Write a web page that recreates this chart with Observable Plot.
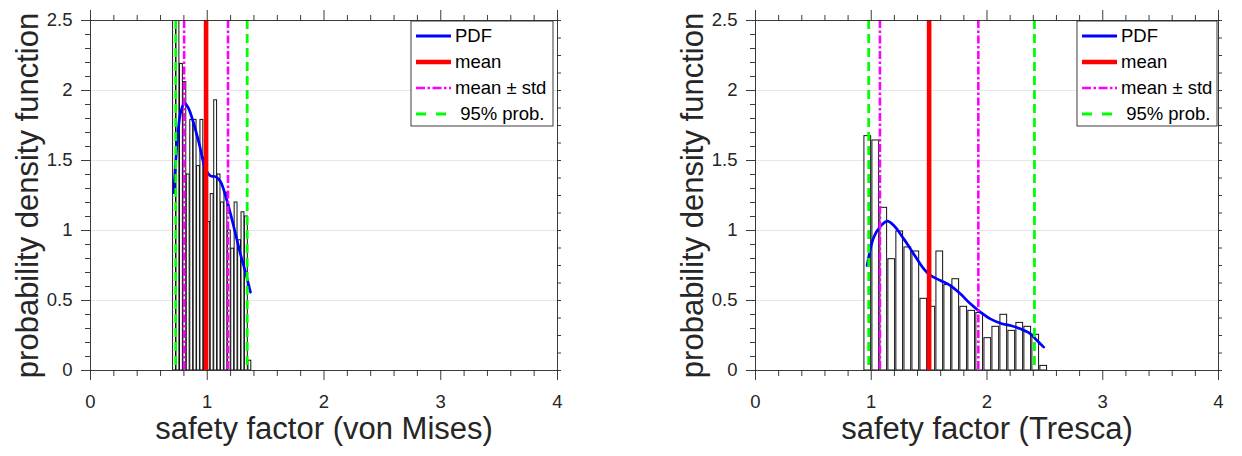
<!DOCTYPE html>
<html>
<head>
<meta charset="utf-8">
<script src="https://cdn.jsdelivr.net/npm/d3@7"></script>
<script src="https://cdn.jsdelivr.net/npm/@observablehq/plot@0.6"></script>
<style>
  html, body { margin: 0; padding: 0; background: #fff; }
  #wrap { display: flex; width: 1242px; height: 456px; }
</style>
</head>
<body>
<div id="wrap"></div>
<script>
// ---------- data ----------
// von Mises panel
const vmBinCenters = [0.720, 0.749, 0.779, 0.808, 0.837, 0.867, 0.896, 0.925, 0.954, 0.984, 1.013, 1.042,
                      1.072, 1.101, 1.130, 1.160, 1.189, 1.218, 1.247, 1.277, 1.306, 1.335, 1.365];
const vmDensity    = [2.62, 2.58, 2.19, 2.06, 1.40, 1.79, 1.79, 1.46, 1.79, 1.52, 1.06, 1.26,
                      1.93, 1.40, 1.20, 1.27, 1.00, 0.87, 1.20, 0.93, 1.13, 1.10, 0.07];
const vmPdfX = [0.713, 0.742, 0.771, 0.805, 0.835, 0.871, 0.928, 0.985, 1.028, 1.071, 1.113, 1.156, 1.199, 1.242, 1.285, 1.328, 1.370];
const vmPdfY = [1.27, 1.62, 1.84, 1.91, 1.88, 1.80, 1.63, 1.44, 1.39, 1.385, 1.35, 1.25, 1.12, 0.976, 0.83, 0.70, 0.56];
const vmMean = 0.99;
const vmStd = 0.188;
const vmP95 = [0.73, 1.342];

// Tresca panel
const trBinCenters = [0.970, 1.039, 1.108, 1.177, 1.246, 1.316, 1.385, 1.454, 1.523, 1.592, 1.661, 1.730,
                      1.799, 1.868, 1.937, 2.007, 2.076, 2.145, 2.214, 2.283, 2.352, 2.421, 2.490];
const trDensity    = [1.674, 1.643, 1.162, 0.795, 0.993, 0.879, 0.850, 0.512, 0.455, 0.850, 0.61, 0.652,
                      0.455, 0.426, 0.41, 0.231, 0.312, 0.398, 0.283, 0.340, 0.312, 0.255, 0.033];
const trPdfX = [0.964, 1.022, 1.079, 1.137, 1.195, 1.281, 1.367, 1.454, 1.511, 1.598, 1.684, 1.770, 1.857, 1.943, 2.029, 2.116, 2.202, 2.288, 2.375, 2.432, 2.490];
const trPdfY = [0.75, 0.952, 1.029, 1.067, 1.036, 0.94, 0.833, 0.726, 0.679, 0.643, 0.607, 0.548, 0.476, 0.417, 0.369, 0.338, 0.321, 0.298, 0.262, 0.214, 0.167];
const trMean = 1.50;
const trStd = 0.425;
const trP95 = [0.978, 2.41];

// axes / text
const xTicks = [0, 1, 2, 3, 4];
const xTickLabels = ["0", "1", "2", "3", "4"];
const yTicks = [0, 0.5, 1, 1.5, 2, 2.5];
const yTickLabels = ["0", "0.5", "1", "1.5", "2", "2.5"];
const gridY = [0.5, 1, 1.5, 2];
const legendLabels = ["PDF", "mean", "mean \u00b1 std", " 95% prob."];
const xAxisLabels = ["safety factor (von Mises)", "safety factor (Tresca)"];
const yAxisLabel = "probability density function";

// ---------- drawing ----------
const FONT = "'Liberation Sans', Arial, Helvetica, sans-serif";
const AX = "#262626";
const C_PDF = "#0000ff", C_MEAN = "#ff0000", C_STD = "#ff00ff", C_P95 = "#00ff00";
const DASH_STD = "8,2.5,2.5,2.5", DASH_P95 = "9,5";

function panel(o) {
  const W = 621, H = 456, T = 20, B = 86;
  const L = o.marginLeft, R = o.marginRight;
  const frameH = H - T - B, frameW = W - L - R;
  const n = o.centers.length;
  const pitch = (o.centers[n - 1] - o.centers[0]) / (n - 1);
  const half = pitch * 0.42;
  const bars = o.centers.map((c, i) => ({c, h: o.density[i]}));
  const pdf = o.pdfX.map((x, i) => ({x, y: o.pdfY[i]}));
  const minorX = d3.range(0, 4.0001, 0.2).filter(v => Math.abs(v - Math.round(v)) > 1e-6);
  const minorY = d3.range(0, 2.5001, 0.1).filter(v => Math.abs(v * 2 - Math.round(v * 2)) > 1e-6);
  const rightTicks = d3.range(0, 2.5001, 0.125);

  const svg = Plot.plot({
    width: W, height: H,
    marginLeft: L, marginRight: R, marginTop: T, marginBottom: B,
    x: {domain: [0, 4], axis: null},
    y: {domain: [0, 2.5], axis: null},
    style: {background: "white", fontFamily: FONT, color: AX, overflow: "visible"},
    marks: [
      Plot.ruleY(gridY, {stroke: "#e6e6e6", strokeWidth: 1}),
      Plot.rect(bars, {x1: d => d.c - half, x2: d => d.c + half, y1: 0, y2: "h",
                       fill: "white", stroke: "#111", strokeWidth: 1, clip: true}),
      Plot.line(pdf, {x: "x", y: "y", stroke: C_PDF, strokeWidth: 2.7, curve: "catmull-rom", clip: true}),
      Plot.ruleX([o.mean], {stroke: C_MEAN, strokeWidth: 4.6}),
      Plot.ruleX([o.mean - o.std, o.mean + o.std], {stroke: C_STD, strokeWidth: 2.6, strokeDasharray: DASH_STD}),
      Plot.ruleX(o.p95, {stroke: C_P95, strokeWidth: 2.8, strokeDasharray: DASH_P95}),
      Plot.frame({stroke: AX, strokeWidth: 0.9}),
      // ticks
      Plot.ruleX(xTicks, {insetTop: frameH, insetBottom: -10, stroke: AX, strokeWidth: 0.9}),
      Plot.ruleX(minorX, {insetTop: frameH, insetBottom: -6, stroke: AX, strokeWidth: 0.9}),
      Plot.ruleX(xTicks, {insetTop: -10, insetBottom: frameH, stroke: AX, strokeWidth: 0.9}),
      Plot.ruleX(minorX, {insetTop: -5, insetBottom: frameH, stroke: AX, strokeWidth: 0.9}),
      Plot.ruleY(yTicks, {insetLeft: -9, insetRight: frameW, stroke: AX, strokeWidth: 0.9}),
      Plot.ruleY(minorY, {insetLeft: -5, insetRight: frameW, stroke: AX, strokeWidth: 0.9}),
      Plot.ruleY(rightTicks, {insetLeft: frameW, insetRight: -4, stroke: AX, strokeWidth: 0.9}),
      // tick labels
      Plot.text(xTicks, {x: d => d, text: (d, i) => xTickLabels[i], frameAnchor: "bottom", dy: 37,
                         fontSize: 18.5, fill: AX}),
      Plot.text(yTicks, {y: d => d, text: (d, i) => yTickLabels[i], frameAnchor: "left", textAnchor: "end",
                         dx: -18, fontSize: 18.5, fill: AX}),
      // axis labels
      Plot.text([o.xLabel], {text: d => d, frameAnchor: "bottom", textAnchor: "middle", dy: 68.5, fontSize: 31, fill: AX}),
      Plot.text([yAxisLabel], {text: d => d, frameAnchor: "left", textAnchor: "middle", rotate: -90, dx: -62,
                               fontSize: 31, fill: AX})
    ]
  });

  // legend (inside the frame, top right)
  const boxW = o.legendW, boxH = 105;
  const bx = W - R - o.legendRight - boxW, by = T + 1;
  const g = d3.select(svg).append("g").attr("font-family", FONT).attr("font-size", 18.5)
    .attr("text-anchor", "start");
  g.append("rect").attr("x", bx).attr("y", by).attr("width", boxW).attr("height", boxH)
    .attr("fill", "white").attr("stroke", AX).attr("stroke-width", 0.9);
  const styles = [
    {stroke: C_PDF, w: 3, dash: null},
    {stroke: C_MEAN, w: 4.5, dash: null},
    {stroke: C_STD, w: 2.6, dash: "9,2.5,2.5,2.5"},
    {stroke: C_P95, w: 2.8, dash: "10,10"}
  ];
  legendLabels.forEach((lab, i) => {
    const yy = by + 15 + i * 26;
    const s = styles[i];
    const ln = g.append("line").attr("x1", bx + 5).attr("x2", bx + 40).attr("y1", yy).attr("y2", yy)
      .attr("stroke", s.stroke).attr("stroke-width", s.w);
    if (s.dash) ln.attr("stroke-dasharray", s.dash);
    g.append("text").attr("x", bx + 44).attr("y", yy).attr("dy", "0.35em")
      .attr("text-anchor", "start").attr("fill", "#000").style("white-space", "pre").text(lab);
  });
  return svg;
}

const wrap = document.getElementById("wrap");
wrap.appendChild(panel({
  centers: vmBinCenters, density: vmDensity, pdfX: vmPdfX, pdfY: vmPdfY,
  mean: vmMean, std: vmStd, p95: vmP95, xLabel: xAxisLabels[0],
  marginLeft: 90, marginRight: 64, legendRight: 4, legendW: 142
}));
wrap.appendChild(panel({
  centers: trBinCenters, density: trDensity, pdfX: trPdfX, pdfY: trPdfY,
  mean: trMean, std: trStd, p95: trP95, xLabel: xAxisLabels[1],
  marginLeft: 134, marginRight: 24, legendRight: 1, legendW: 140
}));
</script>
</body>
</html>
